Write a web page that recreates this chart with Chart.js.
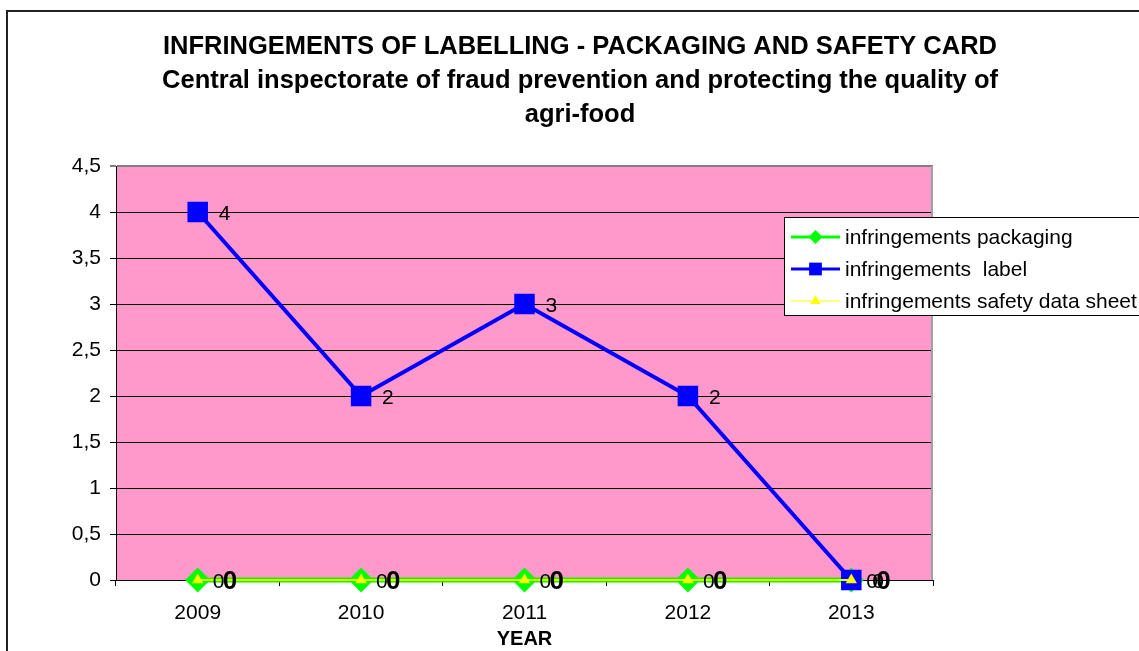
<!DOCTYPE html>
<html>
<head>
<meta charset="utf-8">
<title>Infringements of labelling</title>
<script src="https://cdn.jsdelivr.net/npm/chart.js@4.4.1/dist/chart.umd.min.js"></script>
<style>
    html, body { margin: 0; padding: 0; background: #fff; }
    #wrap { width: 1139px; height: 651px; position: relative; }
</style>
</head>
<body>
<div id="wrap"><canvas id="chart"></canvas></div>
<script>
// Data
const years = ['2009', '2010', '2011', '2012', '2013'];
const packaging = [0, 0, 0, 0, 0];
const label = [4, 2, 3, 2, 0];
const safetySheet = [0, 0, 0, 0, 0];
const seriesNames = ['infringements packaging', 'infringements  label', 'infringements safety data sheet'];
const titleLines = [
    'INFRINGEMENTS OF LABELLING - PACKAGING AND SAFETY CARD',
    'Central inspectorate of fraud prevention and protecting the quality of',
    'agri-food'
];
const axisTitle = 'YEAR';

const FONT = '"Liberation Sans", Arial, sans-serif';

// Per-dataset label/legend styling
const labelStyle = [
    { dx: 15, font: '21px ' + FONT, legendLine: 3, legendRadius: 7 },
    { dx: 21, font: '21px ' + FONT, legendLine: 3, legendRadius: 9 },
    { dx: 25, font: 'bold 26px ' + FONT, legendLine: 1, legendRadius: 6 }
];

function drawMarker(ctx, style, r, x, y, color) {
    ctx.fillStyle = color;
    ctx.beginPath();
    if (style === 'rectRot') {
        ctx.moveTo(x - r, y); ctx.lineTo(x, y - r); ctx.lineTo(x + r, y); ctx.lineTo(x, y + r);
    } else if (style === 'rect') {
        const s = r * Math.SQRT1_2;
        ctx.rect(x - s, y - s, 2 * s, 2 * s);
    } else {
        ctx.moveTo(x, y - r);
        ctx.lineTo(x + r * 0.866, y + r / 2);
        ctx.lineTo(x - r * 0.866, y + r / 2);
    }
    ctx.closePath();
    ctx.fill();
}

const decorPlugin = {
    id: 'decor',
    beforeDraw(chart) {
        const { ctx, chartArea: a } = chart;
        ctx.save();
        ctx.fillStyle = '#FF99CC';
        ctx.fillRect(a.left, a.top, a.right - a.left, a.bottom - a.top);
        ctx.restore();
    },
    beforeDatasetsDraw(chart) {
        const { ctx, chartArea: a } = chart;
        ctx.save();
        ctx.strokeStyle = '#A0A0A0';
        ctx.lineWidth = 2;
        ctx.beginPath();
        ctx.moveTo(a.right - 1, a.top);
        ctx.lineTo(a.right - 1, a.bottom);
        ctx.stroke();
        ctx.restore();
    },
    afterDatasetsDraw(chart) {
        const ctx = chart.ctx;
        ctx.save();
        ctx.fillStyle = '#000';
        ctx.textAlign = 'left';
        ctx.textBaseline = 'middle';
        chart.data.datasets.forEach((ds, i) => {
            const meta = chart.getDatasetMeta(i);
            ctx.font = labelStyle[i].font;
            meta.data.forEach((pt, j) => {
                ctx.fillText(String(ds.data[j]), pt.x + labelStyle[i].dx, pt.y + 2);
            });
        });
        ctx.restore();
    },
    afterDraw(chart) {
        const ctx = chart.ctx;
        ctx.save();
        // outer chart frame
        ctx.strokeStyle = '#222';
        ctx.lineWidth = 2;
        ctx.beginPath();
        ctx.moveTo(7, 651);
        ctx.lineTo(7, 11);
        ctx.lineTo(1139, 11);
        ctx.stroke();

        // legend
        const lx = 784, ly = 217, lh = 98;
        ctx.fillStyle = '#fff';
        ctx.fillRect(lx, ly, 400, lh);
        ctx.strokeStyle = '#000';
        ctx.lineWidth = 1;
        ctx.strokeRect(lx + 0.5, ly + 0.5, 400, lh);
        const rows = [237, 269, 301];
        chart.data.datasets.forEach((ds, i) => {
            const y = rows[i];
            ctx.strokeStyle = ds.borderColor;
            ctx.lineWidth = labelStyle[i].legendLine;
            ctx.beginPath();
            ctx.moveTo(791, y);
            ctx.lineTo(840, y);
            ctx.stroke();
            drawMarker(ctx, ds.pointStyle, labelStyle[i].legendRadius, 815.5, y, ds.pointBackgroundColor);
            ctx.fillStyle = '#000';
            ctx.font = '21px ' + FONT;
            ctx.textAlign = 'left';
            ctx.textBaseline = 'middle';
            ctx.fillText(seriesNames[i], 845, y + 1);
        });
        ctx.restore();
    }
};

Chart.defaults.color = '#000';
Chart.defaults.font.family = FONT;

new Chart(document.getElementById('chart'), {
    type: 'line',
    data: {
        labels: years,
        datasets: [
            {
                label: seriesNames[0],
                data: packaging,
                borderColor: '#00FF00',
                borderWidth: 5,
                pointStyle: 'rectRot',
                pointRadius: 12.5,
                pointBorderWidth: 0,
                pointBackgroundColor: '#00FF00',
                pointBorderColor: '#00FF00',
                order: 3,
                clip: false
            },
            {
                label: seriesNames[1],
                data: label,
                borderColor: '#0000FF',
                borderWidth: 4,
                pointStyle: 'rect',
                pointRadius: 14.5,
                pointBorderWidth: 0,
                pointBackgroundColor: '#0000FF',
                pointBorderColor: '#0000FF',
                order: 2,
                clip: false
            },
            {
                label: seriesNames[2],
                data: safetySheet,
                borderColor: '#FFFF00',
                borderWidth: 2,
                pointStyle: 'triangle',
                pointRadius: 6.5,
                pointBorderWidth: 0,
                pointBackgroundColor: '#FFFF00',
                pointBorderColor: '#FFFF00',
                order: 1,
                clip: false
            }
        ]
    },
    options: {
        responsive: true,
        maintainAspectRatio: false,
        animation: false,
        events: [],
        layout: { padding: { left: 21, right: 0, top: 0, bottom: 0 } },
        plugins: {
            legend: { display: false },
            tooltip: { enabled: false },
            title: {
                display: true,
                text: titleLines,
                color: '#000',
                font: { size: 25.5, weight: 'bold', family: FONT, lineHeight: 34 / 25.5 },
                padding: { top: 30, bottom: 34 }
            }
        },
        scales: {
            x: {
                offset: true,
                grid: {
                    offset: true,
                    drawOnChartArea: false,
                    tickLength: 6,
                    color: '#000'
                },
                border: { display: true, color: '#000', width: 1 },
                ticks: { font: { size: 21 }, padding: 15, maxRotation: 0 },
                title: {
                    display: true,
                    text: axisTitle,
                    font: { size: 20, weight: 'bold' },
                    padding: { top: 0, bottom: 0 }
                },
                afterFit(scale) { scale.height = 71; }
            },
            y: {
                min: 0,
                max: 4.5,
                ticks: {
                    stepSize: 0.5,
                    font: { size: 21 },
                    padding: 9,
                    callback: (v) => String(v).replace('.', ',')
                },
                grid: {
                    color: (c) => (c.tick && c.tick.value === 4.5 ? '#808080' : '#000'),
                    lineWidth: (c) => (c.tick && c.tick.value === 4.5 ? 2 : 1),
                    tickLength: 6
                },
                border: { display: true, color: '#000', width: 1 },
                afterFit(scale) { scale.width = 95; }
            },
            right: {
                position: 'right',
                display: true,
                grid: { display: false },
                border: { display: false },
                ticks: { display: false },
                afterFit(scale) { scale.width = 206; }
            }
        }
    },
    plugins: [decorPlugin]
});
</script>
</body>
</html>
